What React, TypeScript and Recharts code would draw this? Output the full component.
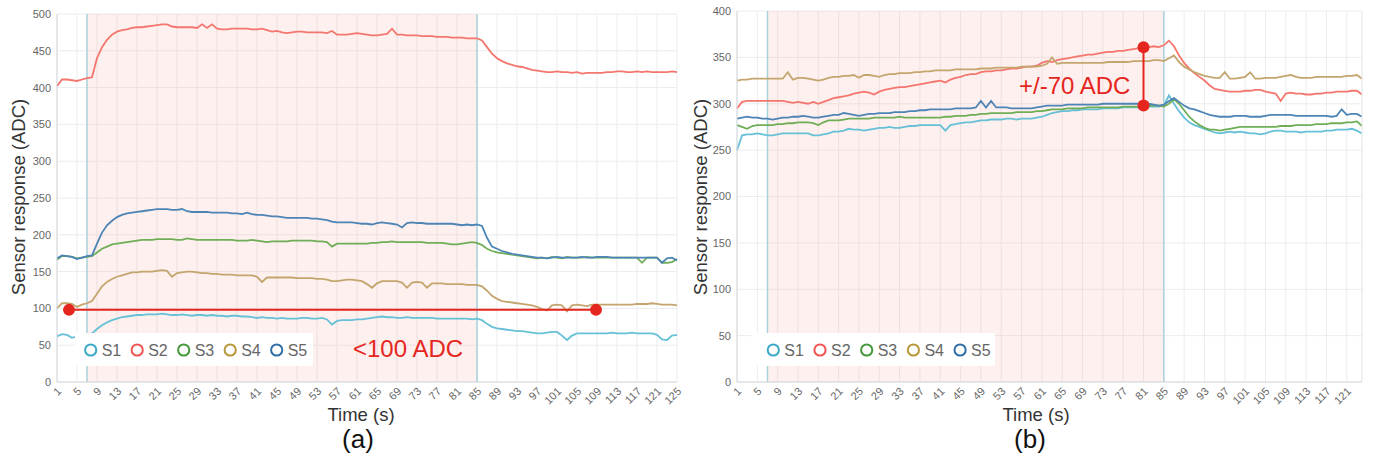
import React from 'react';
import {
  LineChart, Line, XAxis, YAxis, CartesianGrid,
  ReferenceArea, ReferenceLine, ReferenceDot,
} from 'recharts';

const FONT = '"Liberation Sans", Arial, Helvetica, sans-serif';

const seriesNames = ['S1', 'S2', 'S3', 'S4', 'S5'];
const lineColors = ['#66c0d6', '#f4766e', '#6fae57', '#c3a56d', '#4c84b6'];
const legendColors = ['#3aa9c8', '#ef5550', '#45993c', '#b8973a', '#2e6ea6'];

// run (a): sensor drift while the chamber is open, t = 1..125 s
const a1 = [
  62, 65, 64, 60, 62, 63, 64, 66, 72, 77,
  81, 84, 86, 88, 89, 90, 91, 91, 92, 92,
  92, 93, 92, 91, 91, 92, 91, 90, 91, 91,
  90, 91, 90, 90, 89, 90, 90, 89, 89, 88,
  87, 88, 87, 87, 86, 87, 86, 86, 86, 87,
  87, 86, 86, 87, 85, 78, 83, 84, 84, 84,
  85, 85, 86, 87, 88, 89, 88, 88, 87, 87,
  88, 87, 87, 87, 87, 87, 86, 86, 86, 86,
  86, 86, 86, 85, 86, 84, 79, 75, 73, 72,
  71, 70, 69, 69, 68, 67, 66, 66, 67, 68,
  68, 63, 57, 63, 66, 66, 66, 66, 66, 66,
  66, 67, 66, 66, 66, 67, 66, 66, 66, 66,
  64, 58, 57, 63, 64,
];
const a2 = [
  402, 411, 411, 410, 409, 411, 413, 414, 440, 455,
  465, 472, 476, 478, 479, 481, 482, 482, 483, 484,
  485, 486, 486, 483, 482, 482, 482, 482, 481, 486,
  481, 486, 480, 479, 479, 480, 480, 480, 480, 479,
  479, 480, 478, 476, 477, 475, 474, 475, 476, 476,
  475, 475, 475, 475, 474, 477, 472, 472, 472, 473,
  474, 473, 472, 471, 471, 472, 473, 480, 472, 472,
  471, 471, 471, 470, 470, 470, 469, 469, 469, 468,
  468, 468, 467, 467, 467, 464, 455, 446, 440, 436,
  433, 431, 429, 428, 426, 424, 423, 422, 421, 421,
  422, 421, 421, 420, 421, 419, 420, 420, 420, 420,
  421, 421, 422, 422, 421, 421, 422, 421, 422, 421,
  421, 421, 421, 422, 421,
];
const a3 = [
  166, 171, 171, 170, 168, 169, 170, 171, 176, 181,
  184, 187, 188, 189, 190, 191, 192, 193, 193, 193,
  194, 194, 194, 194, 193, 193, 195, 194, 193, 193,
  193, 193, 193, 193, 193, 193, 192, 192, 192, 193,
  192, 191, 190, 191, 191, 191, 191, 192, 192, 192,
  192, 192, 191, 191, 190, 184, 188, 188, 188, 188,
  188, 188, 188, 189, 189, 190, 190, 191, 190, 190,
  190, 190, 190, 190, 189, 189, 189, 189, 188, 187,
  187, 188, 189, 190, 189, 186, 181, 178, 176, 175,
  174, 173, 172, 171, 170, 169, 168, 169, 168, 170,
  169, 168, 170, 169, 169, 169, 170, 169, 169, 169,
  169, 169, 169, 169, 169, 169, 169, 162, 169, 169,
  169, 162, 162, 163, 167,
];
const a4 = [
  100, 107, 107, 106, 102, 105, 107, 110, 120, 130,
  136, 140, 143, 145, 147, 149, 149, 150, 150, 150,
  151, 152, 151, 143, 148, 149, 150, 150, 149, 148,
  148, 147, 147, 146, 146, 146, 145, 145, 145, 145,
  143, 136, 142, 142, 142, 142, 142, 142, 141, 141,
  141, 141, 140, 140, 139, 137, 137, 138, 139, 139,
  138, 137, 133, 128, 134, 137, 137, 137, 137, 135,
  128, 135, 136, 135, 128, 134, 134, 134, 133, 133,
  133, 133, 132, 132, 132, 130, 124, 117, 113, 110,
  109, 108, 107, 106, 105, 104, 102, 99, 97, 104,
  105, 104, 96, 104, 105, 104, 103, 105, 105, 105,
  105, 105, 105, 105, 105, 105, 106, 106, 106, 107,
  106, 105, 105, 105, 104,
];
const a5 = [
  168, 172, 171, 170, 167, 169, 171, 172, 188, 203,
  213, 219, 224, 227, 229, 230, 231, 232, 233, 234,
  235, 235, 235, 234, 234, 235, 232, 231, 231, 231,
  231, 230, 230, 230, 230, 229, 229, 228, 230, 228,
  227, 227, 226, 225, 225, 224, 223, 223, 223, 223,
  223, 222, 222, 221, 220, 218, 217, 217, 217, 217,
  216, 215, 215, 214, 216, 217, 216, 215, 214, 210,
  216, 217, 216, 216, 215, 215, 215, 215, 215, 215,
  214, 213, 214, 213, 214, 212, 196, 184, 181, 178,
  176, 174, 173, 172, 171, 170, 169, 169, 168, 169,
  170, 169, 169, 169, 169, 170, 169, 169, 170, 170,
  170, 169, 169, 169, 169, 169, 169, 169, 169, 169,
  169, 162, 168, 169, 165,
];

// run (b): t = 1..124 s
const b1 = [
  250, 266, 267, 267, 268, 267, 266, 266, 267, 268,
  268, 268, 268, 268, 268, 266, 266, 267, 268, 270,
  270, 271, 273, 272, 272, 271, 272, 273, 274, 274,
  275, 274, 274, 275, 276, 276, 277, 277, 277, 277,
  277, 271, 277, 278, 279, 280, 280, 281, 282, 282,
  283, 283, 283, 284, 284, 283, 284, 284, 284, 285,
  286, 288, 290, 291, 292, 292, 293, 293, 294, 294,
  294, 294, 295, 295, 295, 295, 296, 296, 296, 296,
  296, 297, 297, 297, 298, 309, 300, 292, 285, 280,
  277, 275, 273, 271, 269, 268, 269, 270, 269, 270,
  269, 268, 268, 267, 268, 270, 271, 271, 270, 270,
  270, 269, 270, 270, 270, 270, 271, 271, 272, 272,
  272, 273, 271, 268,
];
const b2 = [
  295, 302, 303, 303, 303, 303, 303, 303, 303, 303,
  302, 301, 302, 301, 300, 302, 300, 302, 304, 306,
  307, 308, 309, 311, 312, 313, 312, 310, 313, 315,
  316, 317, 318, 318, 319, 320, 321, 322, 323, 324,
  325, 323, 326, 328, 329, 331, 332, 332, 334, 335,
  335, 336, 336, 337, 338, 338, 339, 340, 340, 341,
  344, 346, 345, 347, 348, 349, 350, 351, 352, 353,
  353, 354, 355, 356, 356, 357, 357, 358, 359, 360,
  360, 361, 362, 361, 363, 368, 362, 352, 344, 338,
  333, 329, 325, 320, 316, 315, 314, 313, 313, 313,
  314, 314, 315, 315, 313, 312, 311, 303, 311, 312,
  311, 311, 310, 310, 311, 311, 312, 312, 313, 313,
  313, 314, 314, 310,
];
const b3 = [
  277, 275, 273, 276, 277, 277, 277, 277, 278, 278,
  279, 279, 280, 280, 280, 279, 277, 280, 282, 282,
  282, 283, 284, 284, 284, 284, 284, 285, 285, 285,
  285, 285, 286, 285, 285, 285, 285, 285, 285, 285,
  285, 286, 286, 287, 287, 287, 288, 288, 289, 289,
  290, 290, 290, 290, 290, 291, 291, 291, 291, 292,
  292, 293, 294, 294, 294, 295, 295, 295, 295, 296,
  296, 296, 296, 296, 296, 296, 297, 297, 297, 297,
  298, 298, 298, 298, 297, 300, 305, 300, 293, 286,
  281, 277, 274, 272, 272, 271, 272, 273, 274, 275,
  275, 275, 275, 275, 275, 275, 275, 276, 276, 276,
  277, 277, 277, 277, 278, 278, 278, 279, 279, 279,
  280, 280, 281, 276,
];
const b4 = [
  325, 326, 326, 327, 327, 327, 327, 327, 327, 327,
  334, 326, 328, 328, 327, 326, 325, 326, 328, 329,
  329, 330, 330, 331, 328, 331, 331, 330, 329, 331,
  332, 332, 333, 333, 333, 334, 334, 335, 335, 336,
  336, 336, 336, 337, 337, 337, 337, 337, 338, 338,
  338, 339, 339, 339, 339, 339, 340, 340, 340, 340,
  341, 343, 350, 343, 344, 344, 344, 344, 344, 344,
  344, 344, 344, 345, 345, 345, 345, 345, 346, 346,
  346, 346, 347, 347, 346, 349, 352, 345, 340, 337,
  334, 332, 330, 329, 328, 328, 334, 327, 327, 328,
  329, 334, 327, 327, 328, 328, 328, 329, 330, 331,
  329, 328, 328, 328, 329, 329, 329, 329, 329, 329,
  330, 330, 331, 327,
];
const b5 = [
  284, 285, 286, 285, 285, 284, 284, 283, 284, 285,
  285, 286, 286, 287, 286, 285, 285, 286, 287, 288,
  288, 290, 289, 288, 287, 288, 289, 289, 290, 290,
  290, 291, 291, 291, 292, 292, 293, 293, 294, 294,
  294, 294, 294, 295, 295, 295, 295, 296, 303, 296,
  303, 296, 296, 296, 295, 295, 295, 295, 295, 296,
  297, 298, 298, 298, 298, 299, 299, 299, 299, 299,
  299, 299, 300, 300, 300, 300, 300, 300, 300, 300,
  300, 300, 299, 298, 299, 303, 306, 302, 298, 295,
  294, 292, 290, 288, 287, 286, 286, 286, 287, 287,
  287, 286, 286, 286, 287, 288, 288, 288, 288, 288,
  287, 287, 287, 287, 287, 287, 287, 286, 287, 294,
  288, 289, 289, 286,
];

const xTicksA = [1, 5, 9, 13, 17, 21, 25, 29, 33, 37, 41, 45, 49, 53, 57, 61, 65, 69, 73, 77, 81, 85, 89, 93, 97, 101, 105, 109, 113, 117, 121, 125];
const xTicksB = [1, 5, 9, 13, 17, 21, 25, 29, 33, 37, 41, 45, 49, 53, 57, 61, 65, 69, 73, 77, 81, 85, 89, 93, 97, 101, 105, 109, 113, 117, 121];
const yTicksA = [0, 50, 100, 150, 200, 250, 300, 350, 400, 450, 500];
const yTicksB = [0, 50, 100, 150, 200, 250, 300, 350, 400];

// exposure window (s) and the two marked spans
const exposure = [7, 85];
const spanA = { from: 3.4, to: 108.8, level: 98 };
const spanB = { at: 81, low: 298, high: 361 };

const buildRows = (series: number[][]) =>
  series[0].map((_, i) => {
    const row: Record<string, number> = { t: i + 1 };
    seriesNames.forEach((name, k) => { row[name] = series[k][i]; });
    return row;
  });

const rowsA = buildRows([a1, a2, a3, a4, a5]);
const rowsB = buildRows([b1, b2, b3, b4, b5]);

const GRID = '#ebecee';
const AXIS = '#d3dadd';
const EDGE = '#a9d2da';
const RED = '#e5261f';

const TimeTick = (props: any) => {
  const { x, y, payload } = props;
  const tx = x + 5;
  const ty = y + 10;
  return (
    <text x={tx} y={ty} transform={`rotate(-45, ${tx}, ${ty})`} textAnchor="end"
      fontSize={11} fill="#666" fontFamily={FONT}>
      {payload.value}
    </text>
  );
};

interface PanelProps {
  rows: Record<string, number>[];
  last: number;
  xTicks: number[];
  yTicks: number[];
  width: number;
  margin: { top: number; right: number; bottom: number; left: number };
  children?: React.ReactNode;
}

const Panel: React.FC<PanelProps> = ({ rows, last, xTicks, yTicks, width, margin, children }) => (
  <LineChart width={width} height={466} data={rows} margin={margin}>
    <CartesianGrid stroke={GRID} strokeWidth={1} />
    <XAxis
      type="number"
      dataKey="t"
      domain={[1, last]}
      ticks={xTicks}
      interval={0}
      height={40}
      tickLine={false}
      tickSize={0}
      tickMargin={0}
      axisLine={{ stroke: AXIS }}
      tick={<TimeTick />}
    />
    <YAxis
      domain={[0, yTicks[yTicks.length - 1]]}
      ticks={yTicks}
      interval={0}
      width={50}
      tickLine={false}
      tickSize={0}
      tickMargin={6}
      axisLine={{ stroke: AXIS }}
      tick={{ fontSize: 11, fill: '#666', fontFamily: FONT }}
    />
    <ReferenceArea x1={exposure[0]} x2={exposure[1]} fill="#f7ad9f" fillOpacity={0.18} stroke="none" />
    <ReferenceLine x={exposure[0]} stroke={EDGE} strokeWidth={1.5} />
    <ReferenceLine x={exposure[1]} stroke={EDGE} strokeWidth={1.5} />
    {seriesNames.map((name, k) => (
      <Line
        key={name}
        type="linear"
        dataKey={name}
        name={name}
        stroke={lineColors[k]}
        strokeWidth={1.8}
        dot={false}
        isAnimationActive={false}
      />
    ))}
    {children}
  </LineChart>
);

const LegendBox: React.FC<{ x: number; y: number; w: number; cx0: number; step: number }> = ({ x, y, w, cx0, step }) => (
  <g>
    <rect x={x} y={y} width={w} height={33} fill="#fff" />
    {seriesNames.map((name, k) => {
      const cx = cx0 + step * k;
      return (
        <g key={name}>
          <circle cx={cx} cy={y + 17} r={5.6} fill="#fff" stroke={legendColors[k]} strokeWidth={2} />
          <text x={cx + 11} y={y + 23} fontSize={16} fill="#666" fontFamily={FONT}>{name}</text>
        </g>
      );
    })}
  </g>
);

const App: React.FC = () => (
  <div style={{ position: 'absolute', left: 0, top: 0, width: 1373, height: 466, background: '#fff', fontFamily: FONT }}>
    <div style={{ position: 'absolute', left: 0, top: 0 }}>
      <Panel rows={rowsA} last={125} xTicks={xTicksA} yTicks={yTicksA} width={690}
        margin={{ top: 14, right: 13, bottom: 44, left: 7 }}>
        <ReferenceLine
          segment={[{ x: spanA.from, y: spanA.level }, { x: spanA.to, y: spanA.level }]}
          stroke={RED}
          strokeWidth={2}
        />
        <ReferenceDot x={spanA.from} y={spanA.level} r={6} fill={RED} stroke="none" />
        <ReferenceDot x={spanA.to} y={spanA.level} r={6} fill={RED} stroke="none" />
      </Panel>
    </div>
    <div style={{ position: 'absolute', left: 680, top: 0 }}>
      <Panel rows={rowsB} last={124} xTicks={xTicksB} yTicks={yTicksB} width={693}
        margin={{ top: 11, right: 11, bottom: 44, left: 7 }}>
        <ReferenceLine x={124} stroke={GRID} />
        <ReferenceLine
          segment={[{ x: spanB.at, y: spanB.low }, { x: spanB.at, y: spanB.high }]}
          stroke={RED}
          strokeWidth={2}
        />
        <ReferenceDot x={spanB.at} y={spanB.low} r={6} fill={RED} stroke="none" />
        <ReferenceDot x={spanB.at} y={spanB.high} r={6} fill={RED} stroke="none" />
      </Panel>
    </div>
    <svg width={1373} height={466} style={{ position: 'absolute', left: 0, top: 0, pointerEvents: 'none' }}>
      <LegendBox x={75} y={333} w={238} cx0={90.7} step={46.5} />
      <LegendBox x={752} y={333} w={243} cx0={773.3} step={46.7} />

      <text x={18} y={197} transform="rotate(-90, 18, 197)" textAnchor="middle" dominantBaseline="central"
        fontSize={18.5} fill="#333" fontFamily={FONT}>Sensor response (ADC)</text>
      <text x={700} y={197} transform="rotate(-90, 700, 197)" textAnchor="middle" dominantBaseline="central"
        fontSize={18.5} fill="#333" fontFamily={FONT}>Sensor response (ADC)</text>

      <text x={361} y={421} textAnchor="middle" fontSize={18.5} fill="#333" fontFamily={FONT}>Time (s)</text>
      <text x={1036} y={421} textAnchor="middle" fontSize={18.5} fill="#333" fontFamily={FONT}>Time (s)</text>

      <text x={358} y={447.5} textAnchor="middle" fontSize={26} fill="#111" fontFamily={FONT}>(a)</text>
      <text x={1030} y={447.5} textAnchor="middle" fontSize={26} fill="#111" fontFamily={FONT}>(b)</text>

      <text x={353} y={357} fontSize={24} fill={RED} fontFamily={FONT}>&lt;100 ADC</text>
      <text x={1019} y={94} fontSize={24} fill={RED} fontFamily={FONT}>+/-70 ADC</text>
    </svg>
  </div>
);

export default App;
